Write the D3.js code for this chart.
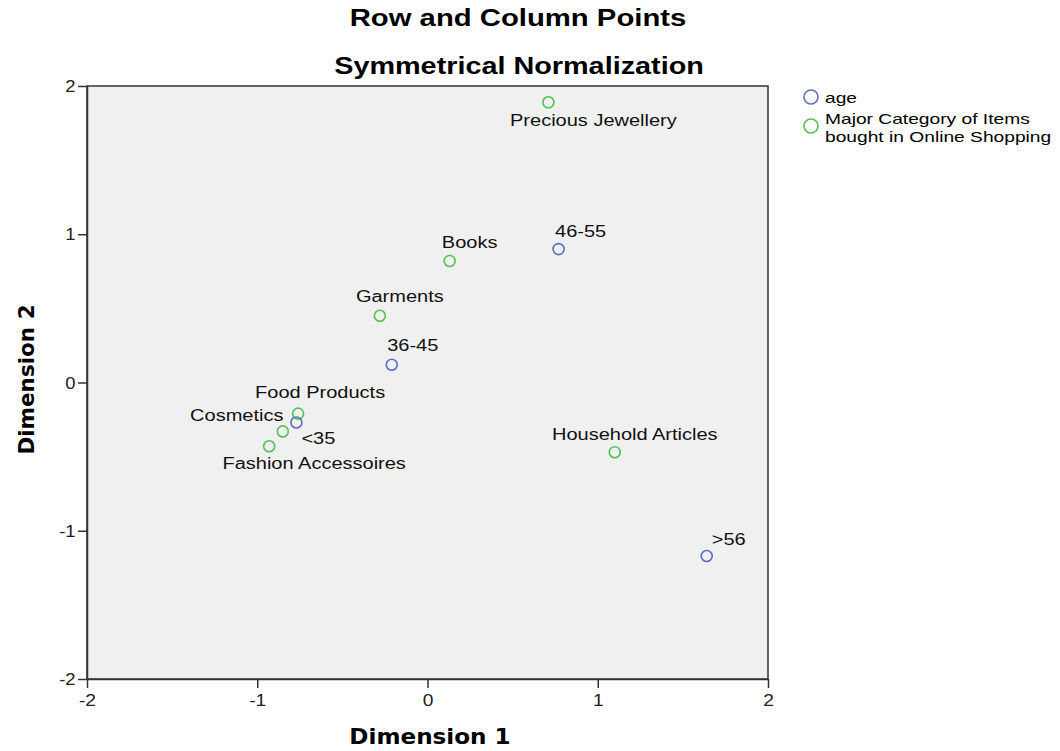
<!DOCTYPE html>
<html><head><meta charset="utf-8">
<script src="https://cdn.jsdelivr.net/npm/d3@7"></script>
<style>body{margin:0;background:#fff}</style>
</head><body>
<script>
// ---- data ----
const names = ["Precious Jewellery","Books","Garments","Food Products","Cosmetics","Fashion Accessoires","Household Articles","<35","36-45","46-55",">56"];
const groups = ["item","item","item","item","item","item","item","age","age","age","age"];
const dim1 = [0.71, 0.13, -0.28, -0.76, -0.85, -0.93, 1.10, -0.77, -0.21, 0.77, 1.64];
const dim2 = [1.89, 0.82, 0.45, -0.21, -0.33, -0.43, -0.47, -0.27, 0.12, 0.90, -1.17];
const ticks = [-2,-1,0,1,2];
const legendLabels = [["age"],["Major Category of Items","bought in Online Shopping"]];
// label layout (dx, dy of label centre relative to point)
const labelDx = [45, 20, 20, 22, -46, 45, 20, 22, 21, 22, 22];
const labelDy = [18, -19, -19, -21, -16, 17, -18, 16, -19, -18, -17];

const W=1060,H=751;
const m={l:87,r:768,t:86,b:679};
const SANS="'Liberation Sans',Arial,sans-serif";
const svg=d3.select("body").append("svg").attr("width",W).attr("height",H)
  .style("font-family",SANS);
const x=d3.scaleLinear().domain([-2,2]).range([m.l,m.r]);
const y=d3.scaleLinear().domain([-2,2]).range([m.b,m.t]);
const color={age:"#5b6fc4",item:"#52c152"};

function txt(p,tx,ty,s,o){
  const t=p.append("text").attr("transform",`translate(${tx},${ty}) scale(${o.sx||1},1)`)
    .attr("text-anchor",o.anchor||"start").attr("font-size",o.size).attr("fill",o.fill||"#000")
    .text(s);
  if(o.bold) t.attr("font-weight","bold");
  if(o.dy) t.attr("dy",o.dy);
  if(o.family) t.attr("font-family",o.family);
  return t;
}

svg.append("rect").attr("x",m.l).attr("y",m.t).attr("width",m.r-m.l).attr("height",m.b-m.t)
  .attr("fill","#f0f0f0").attr("stroke","#333").attr("stroke-width",1.5);

const fmt=d=>String(d);
const xa=svg.append("g").attr("transform",`translate(0,${m.b})`)
  .call(d3.axisBottom(x).tickValues(ticks).tickFormat(fmt).tickSize(9).tickSizeOuter(0));
const ya=svg.append("g").attr("transform",`translate(${m.l},0)`)
  .call(d3.axisLeft(y).tickValues(ticks).tickFormat(fmt).tickSize(9).tickSizeOuter(0));
[xa,ya].forEach(a=>{a.select(".domain").attr("stroke","#333").attr("stroke-width",1.5);
  a.selectAll(".tick line").attr("stroke","#333").attr("stroke-width",1.5);
  a.selectAll("text").attr("font-size",16).attr("fill","#222").attr("font-family",SANS);});
xa.selectAll("text").attr("dy","0.95em").attr("transform","scale(1.2,1)");
ya.selectAll("text").attr("dy","0.35em").attr("x",-10).attr("transform","scale(1.15,1)");

txt(svg,518,26,"Row and Column Points",{size:24,bold:true,anchor:"middle",sx:1.22});
txt(svg,519,74,"Symmetrical Normalization",{size:24,bold:true,anchor:"middle",sx:1.2});
txt(svg,430,744,"Dimension 1",{size:21,bold:true,anchor:"middle",sx:1.1,family:"'DejaVu Sans',Verdana,sans-serif"});
svg.append("text").attr("transform",`translate(34,${(m.t+m.b)/2-3}) rotate(-90)`).attr("text-anchor","middle")
  .attr("font-size",21.5).attr("font-weight","bold").attr("font-family","'DejaVu Sans',Verdana,sans-serif").text("Dimension 2");

const idx=d3.range(names.length);
svg.append("g").selectAll("circle").data(idx).join("circle")
  .attr("cx",i=>x(dim1[i])).attr("cy",i=>y(dim2[i])).attr("r",5.5)
  .attr("fill","none").attr("stroke",i=>color[groups[i]]).attr("stroke-width",1.6);
const lab=svg.append("g");
idx.forEach(i=>txt(lab,x(dim1[i])+labelDx[i],y(dim2[i])+labelDy[i],names[i],{size:16,anchor:"middle",sx:1.25,dy:"0.35em",fill:"#111"}));

// legend
const lg=svg.append("g");
[["age",97],["item",126]].forEach(([g,cy])=>{
  lg.append("circle").attr("cx",811).attr("cy",cy).attr("r",7).attr("fill","none").attr("stroke",color[g]).attr("stroke-width",1.6);
});
txt(lg,825,98,legendLabels[0][0],{size:15,sx:1.28,dy:"0.35em"});
legendLabels[1].forEach((t,j)=>txt(lg,825,119+j*18,t,{size:15,sx:1.28,dy:"0.35em"}));
</script>
</body></html>
